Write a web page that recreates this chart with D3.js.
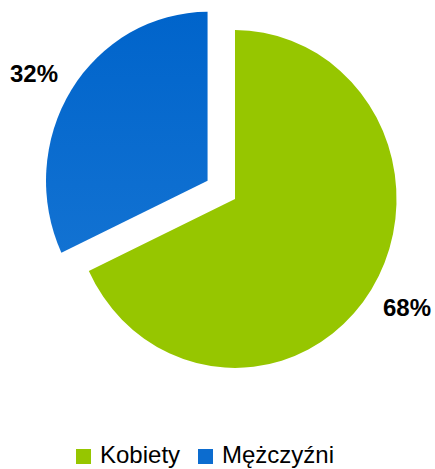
<!DOCTYPE html>
<html>
<head>
<meta charset="utf-8">
<script src="https://cdn.jsdelivr.net/npm/d3@7"></script>
<style>
  body { margin: 0; background: #fff; }
  svg { display: block; font-family: "Liberation Sans", Arial, sans-serif; }
</style>
</head>
<body>
<div id="root"></div>
<script>
const categories = ['Kobiety', 'Mężczyźni'];
const values = [68, 32];
const labels = ['68%', '32%'];
const colors = ['#96c600', '#0c6ccf'];

const width = 435;
const height = 469;
const cx = 235, cy = 199;
const radius = 164;
const explode = [0, 33];

const svg = d3.select('#root').append('svg')
  .attr('width', width)
  .attr('height', height);

const defs = svg.append('defs');
const grad = defs.append('linearGradient')
  .attr('id', 'blueGrad')
  .attr('x1', 0).attr('y1', 0).attr('x2', 0).attr('y2', 1);
grad.append('stop').attr('offset', '0%').attr('stop-color', '#0064cb');
grad.append('stop').attr('offset', '100%').attr('stop-color', '#1272d2');

const pie = d3.pie().sort(null).value((d) => d);
const arcs = pie(values);
const arc = d3.arc().innerRadius(0).outerRadius(radius);

// slightly taller than wide, as in the original
const g = svg.append('g')
  .attr('transform', `translate(${cx},${cy}) scale(0.985,1.03)`);

g.selectAll('path')
  .data(arcs)
  .enter()
  .append('path')
  .attr('d', arc)
  .attr('fill', (d, i) => (i === 1 ? 'url(#blueGrad)' : colors[i]))
  .attr('transform', (d, i) => {
    const a = (d.startAngle + d.endAngle) / 2;
    return `translate(${Math.sin(a) * explode[i]},${-Math.cos(a) * explode[i]})`;
  });

// percentage labels
const labelPos = [[383, 316], [10, 82]];
svg.selectAll('text.pct')
  .data(labels)
  .enter()
  .append('text')
  .attr('class', 'pct')
  .attr('x', (d, i) => labelPos[i][0])
  .attr('y', (d, i) => labelPos[i][1])
  .attr('font-size', 24)
  .attr('font-weight', 'bold')
  .attr('fill', '#000')
  .text((d) => d);

// legend
const legendX = [76, 198];
const legend = svg.selectAll('g.legend')
  .data(categories)
  .enter()
  .append('g')
  .attr('class', 'legend')
  .attr('transform', (d, i) => `translate(${legendX[i]},449)`);

legend.append('rect')
  .attr('width', 15)
  .attr('height', 15)
  .attr('fill', (d, i) => colors[i]);

legend.append('text')
  .attr('x', 24)
  .attr('y', 14)
  .attr('font-size', 24)
  .attr('fill', '#000')
  .text((d) => d);
</script>
</body>
</html>
